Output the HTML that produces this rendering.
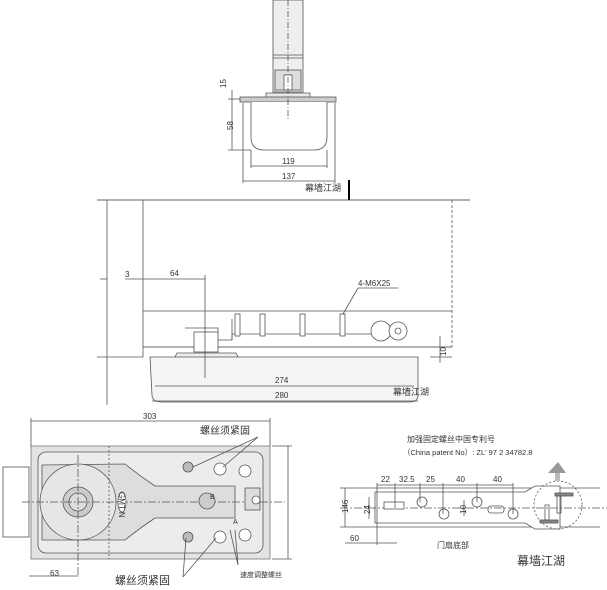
<!DOCTYPE html>
<html><head><meta charset="utf-8"><style>
html,body{margin:0;padding:0;background:#fff;width:607px;height:590px;overflow:hidden}
svg{display:block}
text{font-family:"Liberation Sans","Noto Sans CJK SC",sans-serif;fill:#333}
</style></head><body>
<svg width="607" height="590" viewBox="0 0 607 590" xmlns="http://www.w3.org/2000/svg">
<g stroke="#555" stroke-width="0.8" fill="none">
<!-- TOP VIEW -->
<rect x="273" y="0" width="30" height="92" fill="#eee"/>
<line x1="273" y1="55" x2="303" y2="55"/><line x1="273" y1="58" x2="303" y2="58"/>
<rect x="275" y="70" width="26" height="20" fill="#ddd"/>
<rect x="284" y="75" width="8" height="15" fill="#fff"/>
<path d="M266 97 L266 93 L310 93 L310 97" fill="#e8e8e8"/>
<rect x="240" y="97" width="96" height="5" fill="#ccc"/>
<path d="M251 102 L251 137 Q251 150 264 150 L314 150 Q327 150 327 137 L327 102" fill="#fff"/>
<line x1="288" y1="0" x2="288" y2="120" stroke-dasharray="6 2 1 2"/>
<line x1="243" y1="103" x2="243" y2="183"/><line x1="335" y1="103" x2="335" y2="183"/>
<line x1="251" y1="150" x2="251" y2="168"/><line x1="327" y1="150" x2="327" y2="168"/>
<line x1="251" y1="166" x2="327" y2="166"/><line x1="243" y1="181" x2="335" y2="181"/>
<line x1="232" y1="90" x2="232" y2="150"/><line x1="228" y1="99" x2="240" y2="99"/><line x1="228" y1="150" x2="251" y2="150"/>
<!-- MIDDLE -->
<line x1="97" y1="200" x2="470" y2="200" stroke="#333"/>
<line x1="107" y1="200" x2="107" y2="405"/>
<line x1="143" y1="200" x2="143" y2="357"/>
<line x1="97" y1="357" x2="143" y2="357"/>
<line x1="143" y1="311" x2="452" y2="311"/>
<line x1="143" y1="347" x2="452" y2="347" stroke="#333"/>
<line x1="452" y1="200" x2="452" y2="347" stroke-dasharray="3 2"/>
<path d="M185 328 L218 328 L218 340 L232 340 L232 334 L380 334" />
<rect x="194" y="332" width="24" height="20" fill="#fff"/>
<path d="M175 357 L177 353 L236 353 L238 357" fill="#eee"/>
<path d="M150 357 L418 357 L418 395 Q418 402 410 402 L162 402 Q152 402 152 395 Z" fill="#f4f4f4"/>
<line x1="205" y1="275" x2="205" y2="378"/>
<line x1="232" y1="319" x2="232" y2="340"/>
<g fill="#fff">
<rect x="235" y="314" width="5" height="22"/><rect x="260" y="314" width="5" height="22"/>
<rect x="300" y="314" width="5" height="22"/><rect x="340" y="314" width="5" height="22"/>
</g>
<circle cx="381" cy="331" r="10" fill="#fff"/><circle cx="398" cy="331" r="9" fill="#fff"/><circle cx="398" cy="331" r="3"/>
<line x1="125" y1="279" x2="205" y2="279"/><line x1="100" y1="279" x2="107" y2="279"/>
<line x1="343" y1="314" x2="358" y2="288"/><line x1="358" y1="288" x2="398" y2="288"/>
<line x1="440" y1="336" x2="440" y2="363"/><line x1="430" y1="357" x2="452" y2="357"/>
<line x1="155" y1="386" x2="414" y2="386"/><line x1="152" y1="401" x2="418" y2="401"/>
<!-- BOTTOM LEFT -->
<rect x="31" y="446" width="239" height="113" fill="#e3e3e3" stroke="#777"/>
<rect x="38" y="452" width="225" height="101" rx="8" fill="#ececec"/>
<rect x="3" y="467" width="26" height="70" fill="#fff"/>
<path d="M42 465 L42 540 L125 540 Q140 528 155 518 L235 518 L235 486 L155 486 Q140 476 125 464 Z" fill="#ddd"/>
<circle cx="78" cy="502" r="38" fill="#e6e6e6"/>
<circle cx="78" cy="502" r="15" fill="#ccc"/>
<circle cx="78" cy="502" r="9" fill="#ddd"/>
<line x1="22" y1="502" x2="285" y2="502" stroke-dasharray="8 2 2 2"/>
<line x1="78" y1="455" x2="78" y2="575" stroke-dasharray="8 2 2 2"/>
<line x1="109" y1="446" x2="109" y2="559" stroke-dasharray="2 2"/>
<ellipse cx="122" cy="502" rx="4" ry="10" fill="#fff"/>
<circle cx="207" cy="501" r="8" fill="#ccc"/>
<circle cx="220" cy="469" r="6" fill="#fff"/><circle cx="220" cy="537" r="6" fill="#fff"/>
<circle cx="245" cy="471" r="6" fill="#fff"/><circle cx="245" cy="535" r="6" fill="#fff"/>
<circle cx="188" cy="467" r="5" fill="#bbb"/><circle cx="188" cy="537" r="5" fill="#bbb"/>
<rect x="245" y="488" width="15" height="22" fill="#ddd"/><circle cx="256" cy="500" r="4" fill="#fff"/>
<line x1="31" y1="418" x2="31" y2="446"/><line x1="270" y1="418" x2="270" y2="446"/>
<line x1="31" y1="421" x2="270" y2="421"/>
<line x1="272" y1="446" x2="292" y2="446"/><line x1="272" y1="559" x2="292" y2="559"/><line x1="288" y1="446" x2="288" y2="559"/>
<line x1="29" y1="576" x2="78" y2="576"/>
<line x1="258" y1="437" x2="193" y2="467"/><line x1="258" y1="437" x2="223" y2="467"/>
<line x1="183" y1="577" x2="186" y2="538"/><line x1="183" y1="577" x2="216" y2="538"/>
<line x1="238" y1="565" x2="230" y2="530"/><line x1="238" y1="565" x2="235" y2="530"/>
<!-- BOTTOM RIGHT -->
<line x1="340" y1="488" x2="600" y2="488"/><line x1="340" y1="527" x2="600" y2="527"/>
<path d="M375 492 L525 492 L535 486 L560 486 L560 529 L535 529 L525 523 L375 523 Z" fill="#fff"/>
<line x1="340" y1="508" x2="607" y2="508" stroke-dasharray="8 2 2 2"/>
<rect x="384" y="502" width="20" height="7" fill="#fff"/>
<circle cx="422" cy="502" r="5"/><circle cx="444" cy="514" r="5"/><circle cx="477" cy="502" r="5"/><circle cx="513" cy="514" r="5"/>
<rect x="488" y="506" width="16" height="7" rx="3"/>
<circle cx="558" cy="505" r="24" stroke-dasharray="2 2"/>
<rect x="555" y="493" width="18" height="3" fill="#888"/><rect x="540" y="520" width="18" height="3" fill="#888"/>
<rect x="557" y="496" width="4" height="17"/><rect x="545" y="505" width="4" height="15"/>
<path d="M548 473 L558 462 L566 473 Z" fill="#999" stroke="none"/>
<rect x="555" y="473" width="5" height="8" fill="#bbb" stroke="none"/>
<line x1="377" y1="483" x2="377" y2="545"/><line x1="395" y1="483" x2="395" y2="508"/>
<line x1="420" y1="483" x2="420" y2="502"/><line x1="443" y1="483" x2="443" y2="514"/>
<line x1="477" y1="483" x2="477" y2="502"/><line x1="513" y1="483" x2="513" y2="514"/>
<line x1="377" y1="485" x2="513" y2="485"/>
<line x1="345" y1="543" x2="397" y2="543"/>
<line x1="369" y1="497" x2="369" y2="519"/><line x1="464" y1="500" x2="464" y2="516"/>
<line x1="345" y1="488" x2="345" y2="527"/>
</g>
<g font-size="8">
<text x="226" y="88" transform="rotate(-90 226 88)">15</text>
<text x="233" y="130" transform="rotate(-90 233 130)">58</text>
<text x="282" y="164">119</text><text x="282" y="179">137</text>
<text x="125" y="277">3</text><text x="170" y="276">64</text>
<text x="358" y="286">4-M6X25</text>
<text x="446" y="356" transform="rotate(-90 446 356)">10</text>
<text x="275" y="383">274</text><text x="275" y="398">280</text>
<text x="143" y="419">303</text><text x="50" y="576">63</text>
<text x="381" y="482">22</text><text x="399" y="482">32.5</text><text x="426" y="482">25</text><text x="456" y="482">40</text><text x="493" y="482">40</text>
<text x="350" y="541">60</text>
<text x="348" y="513" transform="rotate(-90 348 513)">146</text>
<text x="370" y="514" transform="rotate(-90 370 514)">24</text>
<text x="466" y="514" transform="rotate(-90 466 514)">10</text>
<text x="210" y="499" font-size="7">B</text><text x="233" y="524" font-size="7">A</text>
<text x="112" y="505" font-size="8" transform="rotate(90 122 502)">GMT N</text>
</g>
<g font-family="Liberation Sans,Noto Sans CJK SC,sans-serif">
<text x="305" y="191" font-size="9">幕墙江湖</text>
<text x="393" y="395" font-size="9">幕墙江湖</text>
<text x="200" y="434" font-size="10">螺丝须紧固</text>
<text x="115" y="584" font-size="11">螺丝须紧固</text>
<text x="240" y="577" font-size="7">速度调整螺丝</text>
<text x="407" y="442" font-size="8">加强固定螺丝中国专利号</text>
<text x="403" y="455" font-size="7.5">（China patent No）:  ZL'  97 2 34782.8</text>
<text x="437" y="548" font-size="8">门扇底部</text>
<text x="517" y="565" font-size="12">幕墙江湖</text>
</g>
<rect x="348" y="180" width="2" height="20" fill="#000"/>
</svg>
</body></html>
